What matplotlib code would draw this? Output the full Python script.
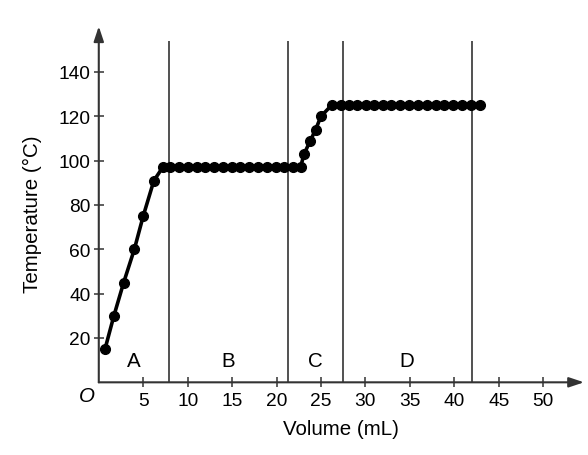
import matplotlib
matplotlib.use('Agg')
import matplotlib.pyplot as plt

plt.rcParams['font.family'] = ['Liberation Sans', 'DejaVu Sans']

# heating curve
volume = [0.7, 1.7, 2.8, 4.0, 5.0, 6.2, 7.2,
          8.0, 9.0, 10.0, 11.0, 12.0, 13.0, 14.0, 15.0, 15.9, 16.9,
          17.9, 18.9, 19.9, 20.8, 21.8, 22.7,
          23.1, 23.8, 24.4, 25.0,
          26.2, 27.2, 28.2, 29.1, 30.1, 31.0, 32.0, 32.9, 33.9, 34.9,
          35.9, 36.9, 37.9, 38.9, 39.9, 40.9, 41.9, 42.9]
temp = [15, 30, 45, 60, 75, 91, 97,
        97, 97, 97, 97, 97, 97, 97, 97, 97, 97,
        97, 97, 97, 97, 97, 97,
        103, 109, 114, 120,
        125, 125, 125, 125, 125, 125, 125, 125, 125, 125,
        125, 125, 125, 125, 125, 125, 125, 125]

regionEdges = [7.95, 21.25, 27.5, 42.0]
regionNames = ['A', 'B', 'C', 'D']
regionCenters = [3.9, 14.55, 24.35, 34.7]

xTicks = [5, 10, 15, 20, 25, 30, 35, 40, 45, 50]
yTicks = [20, 40, 60, 80, 100, 120, 140]

xMax = 54.6
yMax = 160.6
axisColor = '#333333'
fs = 13.8
labelFs = 14.8

figure = plt.figure(figsize=(5.88, 4.56), dpi=100)
axes = figure.add_axes([0.168, 0.1594, 0.9932 - 0.168, 0.9401 - 0.1594])
axes.set_xlim(0, xMax)
axes.set_ylim(0, yMax)
for s in axes.spines.values():
    s.set_visible(False)

# axes with arrow heads
for tip in [(xMax, 0), (0, yMax)]:
    axes.annotate('', xy=tip, xytext=(0, 0),
                  arrowprops=dict(arrowstyle='-|>,head_length=0.9,head_width=0.3',
                                  color=axisColor, lw=1.5, shrinkA=0, shrinkB=0),
                  annotation_clip=False)

axes.vlines(regionEdges, 0, 154.2, color='#222222', lw=1.1)

axes.plot(volume, temp, color='black', lw=2.6, marker='o', markersize=7,
          clip_on=False, zorder=3)

for name, cx in zip(regionNames, regionCenters):
    axes.text(cx, 10, name, ha='center', va='center', fontsize=labelFs)

axes.text(-1.38, -6.0, 'O', ha='center', va='center', fontsize=labelFs,
          style='italic', clip_on=False)

axes.set_xticks(xTicks)
axes.set_yticks(yTicks)
axes.tick_params(direction='inout', length=7.5, width=1.1, color=axisColor,
                 labelsize=fs)
axes.tick_params(axis='x', pad=3)
axes.tick_params(axis='y', pad=2)

axes.set_xlabel('Volume (mL)', fontsize=labelFs)
axes.set_ylabel('Temperature (°C)', fontsize=labelFs)
axes.xaxis.set_label_coords(0.5, -0.103)
axes.yaxis.set_label_coords(-0.116, 0.475)

figure.savefig('out.png', dpi=100)
plt.close('all')
